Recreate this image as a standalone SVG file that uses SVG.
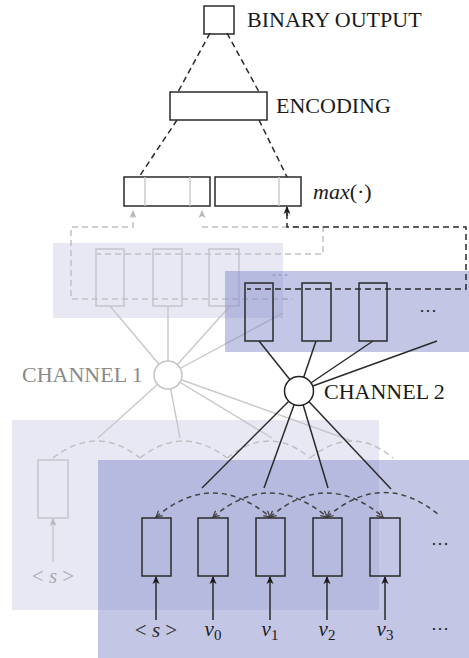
<svg xmlns="http://www.w3.org/2000/svg" width="469" height="658" viewBox="0 0 469 658">
<defs>
<style>
.lbl{font-family:"Liberation Serif","Times New Roman",serif;font-size:22px;fill:#1a1a1a}
.lbl1{font-family:"Liberation Serif","Times New Roman",serif;font-size:22px;fill:#8a8a8a}
.math{font-family:"Liberation Serif","Times New Roman",serif;font-style:italic;font-size:21px;fill:#1a1a1a}
.dbox{fill:none;stroke:#2a2a2a;stroke-width:1.5}
.lbox{fill:none;stroke:#c2c2c8;stroke-width:1.4}
.dline{fill:none;stroke:#2a2a2a;stroke-width:1.5}
.lline{fill:none;stroke:#c8c8c8;stroke-width:1.4}
.ddash{fill:none;stroke:#2a2a2a;stroke-width:1.5;stroke-dasharray:6 4}
.ldash{fill:none;stroke:#c0c0c4;stroke-width:1.5;stroke-dasharray:6 4}
.adash{fill:none;stroke:#444;stroke-width:1.5;stroke-dasharray:5 4}
.lpanel{fill:#e8e8f5}
.dpanel{fill:rgb(130,136,199);fill-opacity:0.48}
</style>
<marker id="ad" viewBox="0 0 8 8" refX="7" refY="4" markerWidth="8" markerHeight="8" markerUnits="userSpaceOnUse" orient="auto">
<path d="M0,0.5 L8,4 L0,7.5 L2,4 Z" fill="#1a1a1a"/>
</marker>
<marker id="al" viewBox="0 0 8 8" refX="7" refY="4" markerWidth="8" markerHeight="8" markerUnits="userSpaceOnUse" orient="auto">
<path d="M0,0.5 L8,4 L0,7.5 L2,4 Z" fill="#b8b8bc"/>
</marker>
<marker id="av" viewBox="0 0 8 8" refX="7" refY="4" markerWidth="8" markerHeight="8" markerUnits="userSpaceOnUse" orient="auto-start-reverse">
<path d="M1,0.8 L7,4 L1,7.2" fill="none" stroke="#444" stroke-width="1.3"/>
</marker>
</defs>
<rect width="469" height="658" fill="#ffffff"/>

<g id="panels-light">
<rect class="lpanel" x="12" y="420" width="367" height="190"/>
<rect class="lpanel" x="53" y="243" width="230" height="75"/>
</g>

<g id="channel1-connectors">
<path class="ldash" d="M133,212 V227 H71 V299 H293"/>
<path class="ldash" d="M202,227 H323 V254 H97"/>
<line class="lline" x1="133" y1="216" x2="133" y2="211" marker-end="url(#al)"/>
<line class="lline" x1="202" y1="216" x2="202" y2="211" marker-end="url(#al)"/>
<line class="lline" x1="168" y1="375" x2="110" y2="306"/>
<line class="lline" x1="168" y1="375" x2="168" y2="306"/>
<line class="lline" x1="168" y1="375" x2="230" y2="306"/>
<line class="lline" x1="168" y1="375" x2="283" y2="313"/>
<line class="lline" x1="168" y1="375" x2="98" y2="438"/>
<line class="lline" x1="168" y1="375" x2="180" y2="438"/>
<line class="lline" x1="168" y1="375" x2="272" y2="438"/>
<line class="lline" x1="168" y1="375" x2="352" y2="441"/>
<path class="ldash" d="M53,458 Q97,424 140,458"/>
<path class="ldash" d="M140,458 Q183,424 227,458"/>
<path class="ldash" d="M227,458 Q270,424 310,458"/>
<path class="ldash" d="M310,458 Q353,424 393,458"/>
<line class="lline" x1="53" y1="562" x2="53" y2="519" marker-end="url(#al)"/>
</g>

<g id="ch1-cell-1"><rect class="lbox" x="96" y="249" width="28" height="57"/></g>
<g id="ch1-cell-2"><rect class="lbox" x="153" y="249" width="29" height="57"/></g>
<g id="ch1-cell-3"><rect class="lbox" x="209" y="249" width="30" height="57"/></g>
<g id="ch1-dots"><text x="280" y="280" text-anchor="middle" style="font-family:'Liberation Serif',serif;font-size:18px;fill:#b0b0b8">⋯</text></g>
<g id="ch1-input-cell"><rect class="lbox" x="38" y="460" width="30" height="58"/></g>
<g id="ch1-input-label"><text x="53" y="583" text-anchor="middle" style="font-family:'Liberation Serif',serif;font-size:21px;fill:#a8a8ae">&lt; <tspan font-style="italic">s</tspan> &gt;</text></g>
<g id="channel1"><circle cx="168" cy="375" r="14" fill="#ffffff" stroke="#c4c4c4" stroke-width="1.5"/><text class="lbl1" x="22" y="382">CHANNEL 1</text></g>

<g id="panels-dark">
<rect class="dpanel" x="225" y="271" width="244" height="81"/>
<rect class="dpanel" x="98" y="460" width="371" height="198"/>
</g>

<g id="connectors">
<path class="ddash" d="M210,33 L178,92"/>
<path class="ddash" d="M227,33 L259,92"/>
<path class="ddash" d="M177,120 L139,177"/>
<path class="ddash" d="M259,120 L287,177"/>
<path class="ddash" d="M287,213 V227 H466 V289 H247"/>
<line class="dline" x1="287" y1="216" x2="287" y2="207" marker-end="url(#ad)"/>
<line class="dline" x1="299" y1="391" x2="259" y2="341"/>
<line class="dline" x1="299" y1="391" x2="316" y2="341"/>
<line class="dline" x1="299" y1="391" x2="373" y2="341"/>
<line class="dline" x1="299" y1="391" x2="437" y2="341"/>
<line class="dline" x1="299" y1="391" x2="202" y2="488"/>
<line class="dline" x1="299" y1="391" x2="264" y2="488"/>
<line class="dline" x1="299" y1="391" x2="328" y2="488"/>
<line class="dline" x1="299" y1="391" x2="391" y2="489"/>
<path class="adash" d="M156,517 Q213,469 270,517" marker-start="url(#av)" marker-end="url(#av)"/>
<path class="adash" d="M213,517 Q270,469 327,517" marker-start="url(#av)" marker-end="url(#av)"/>
<path class="adash" d="M270,517 Q327,469 383,517" marker-start="url(#av)" marker-end="url(#av)"/>
<path class="adash" d="M327,517 Q383,469 439,515" marker-start="url(#av)"/>
<line class="dline" x1="156" y1="620" x2="156" y2="577" marker-end="url(#ad)"/>
<line class="dline" x1="213" y1="620" x2="213" y2="577" marker-end="url(#ad)"/>
<line class="dline" x1="270" y1="620" x2="270" y2="577" marker-end="url(#ad)"/>
<line class="dline" x1="327" y1="620" x2="327" y2="577" marker-end="url(#ad)"/>
<line class="dline" x1="385" y1="620" x2="385" y2="577" marker-end="url(#ad)"/>
</g>

<g id="binary-output"><rect class="dbox" x="204" y="6" width="30" height="28"/><text class="lbl" x="247" y="27">BINARY OUTPUT</text></g>
<g id="encoding"><rect class="dbox" x="170" y="92" width="97" height="28"/><text class="lbl" x="276" y="113">ENCODING</text></g>
<g id="max-left"><rect class="dbox" x="124" y="177" width="86" height="29"/><line class="lline" x1="145" y1="177" x2="145" y2="206"/><line class="lline" x1="190" y1="177" x2="190" y2="206"/></g>
<g id="max-right"><rect class="dbox" x="215" y="177" width="86" height="29"/><line class="lline" x1="279" y1="177" x2="279" y2="206"/></g>
<g id="max-label"><text class="math" x="313" y="199" style="font-size:22px">max<tspan font-style="normal">(·)</tspan></text></g>

<g id="ch2-cell-1"><rect class="dbox" x="245" y="283" width="28" height="58"/></g>
<g id="ch2-cell-2"><rect class="dbox" x="302" y="283" width="29" height="58"/></g>
<g id="ch2-cell-3"><rect class="dbox" x="359" y="283" width="28" height="58"/></g>
<g id="ch2-dots"><text x="428" y="316" text-anchor="middle" style="font-family:'Liberation Serif',serif;font-size:18px;fill:#2a2a2a">⋯</text></g>
<g id="channel2"><circle cx="299" cy="391" r="14.5" fill="#ffffff" stroke="#222" stroke-width="1.5"/><text class="lbl" x="324" y="399">CHANNEL 2</text></g>

<g id="in-cell-0"><rect class="dbox" x="142" y="518" width="29" height="58"/></g>
<g id="in-cell-1"><rect class="dbox" x="198" y="518" width="30" height="58"/></g>
<g id="in-cell-2"><rect class="dbox" x="256" y="518" width="29" height="58"/></g>
<g id="in-cell-3"><rect class="dbox" x="313" y="518" width="29" height="58"/></g>
<g id="in-cell-4"><rect class="dbox" x="370" y="518" width="30" height="58"/></g>
<g id="cell-dots"><text x="440" y="549" text-anchor="middle" style="font-family:'Liberation Serif',serif;font-size:18px;fill:#2a2a2a">⋯</text></g>

<g id="labels">
<text x="156" y="637" text-anchor="middle" style="font-family:'Liberation Serif',serif;font-size:21px;fill:#2a2a2a">&lt; <tspan font-style="italic">s</tspan> &gt;</text>
<text class="math" x="213" y="636" text-anchor="middle">v<tspan font-style="normal" font-size="15" dy="4">0</tspan></text>
<text class="math" x="270" y="636" text-anchor="middle">v<tspan font-style="normal" font-size="15" dy="4">1</tspan></text>
<text class="math" x="327" y="636" text-anchor="middle">v<tspan font-style="normal" font-size="15" dy="4">2</tspan></text>
<text class="math" x="385" y="636" text-anchor="middle">v<tspan font-style="normal" font-size="15" dy="4">3</tspan></text>
<text x="440" y="634" text-anchor="middle" style="font-family:'Liberation Serif',serif;font-size:18px;fill:#2a2a2a">⋯</text>
</g>
</svg>
